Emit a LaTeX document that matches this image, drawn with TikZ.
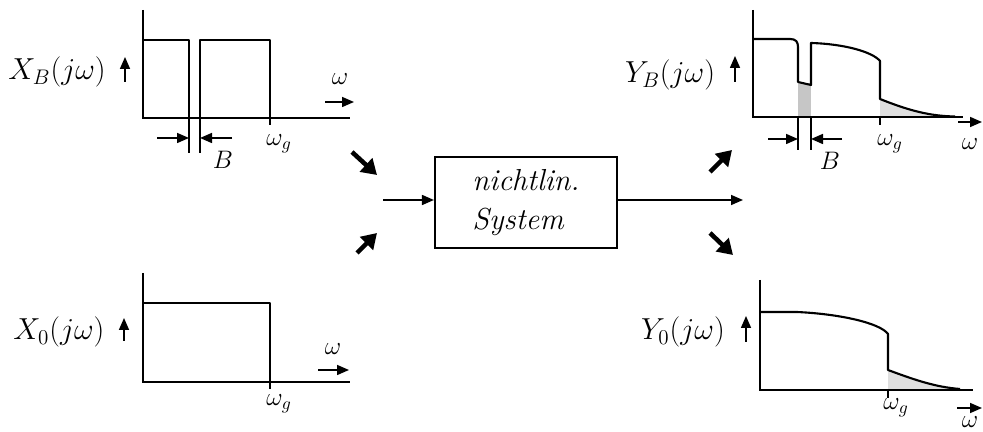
\documentclass[tikz,border=0pt]{standalone}
\usepackage{amsmath}
\usetikzlibrary{arrows.meta, positioning}

\begin{document}
\begin{tikzpicture}[
    axis/.style={line width=0.9pt},
    spec/.style={line width=1.2pt, line join=round},
    lbl/.style={font=\LARGE},
    small/.style={font=\Large},
    tick/.style={line width=0.8pt},
    arrow/.style={-{Triangle[length=2.4mm, width=2mm]}, line width=0.9pt},
    bigarrow/.style={-{Triangle[length=3mm, width=3.6mm]}, line width=2.6pt},
    shade/.style={fill=gray!45, draw=none},
    lightshade/.style={fill=gray!25, draw=none},
    sysbox/.style={draw, line width=1.2pt, minimum width=3.64cm, minimum height=1.82cm, font=\LARGE\itshape, align=left}
]
\useasboundingbox (0,0) rectangle (19.66,8.64);

% X_B(jw): input spectrum with gap B
\draw[axis] (2.86,8.44) -- (2.86,6.28) -- (7.00,6.28);
\draw[spec] (2.86,7.84) -- (3.78,7.84) -- (3.78,5.58);
\draw[spec] (4.00,5.58) -- (4.00,7.84) -- (5.40,7.84) -- (5.40,6.28);
\draw[tick] (5.40,6.28) -- (5.40,6.14);
\node[lbl] (xb) at (1.14,7.20) {$X_B(j\omega)$};
\draw[arrow] (2.50,7.00) -- (2.50,7.50);
\draw[arrow] (3.14,5.88) -- (3.78,5.88);
\draw[arrow] (4.64,5.88) -- (4.00,5.88);
\node[small] (xbgap) at (4.46,5.44) {$B$};
\node[small] (xbwg) at (5.58,5.76) {$\omega_g$};
\node[small] (xbw) at (6.80,7.06) {$\omega$};
\draw[arrow] (6.50,6.60) -- (7.08,6.60);

% X_0(jw): full input spectrum
\draw[axis] (2.86,3.18) -- (2.86,1.00) -- (7.00,1.00);
\draw[spec] (2.86,2.58) -- (5.40,2.58) -- (5.40,1.00);
\draw[tick] (5.40,1.00) -- (5.40,0.86);
\node[lbl] (xo) at (1.18,2.00) {$X_0(j\omega)$};
\draw[arrow] (2.48,1.82) -- (2.48,2.28);
\node[small] (xowg) at (5.58,0.56) {$\omega_g$};
\node[small] (xow) at (6.66,1.66) {$\omega$};
\draw[arrow] (6.36,1.24) -- (6.98,1.24);

% nonlinear system
\node[sysbox] (sys) at (10.52,4.59) {nichtlin.\\System};
\coordinate (in) at (7.66,4.64);
\coordinate (out) at (14.86,4.64);
\draw[arrow] (in) -- (sys.west |- in);
\draw[arrow] (sys.east |- out) -- (out);

% bold arrows in and out
\coordinate (tl0) at (7.04,5.60);
\coordinate (tl1) at (7.54,5.14);
\coordinate (bl0) at (7.14,3.58);
\coordinate (bl1) at (7.54,3.98);
\coordinate (tr0) at (14.20,5.20);
\coordinate (tr1) at (14.64,5.64);
\coordinate (br0) at (14.20,3.98);
\coordinate (br1) at (14.66,3.54);
\draw[bigarrow] (tl0) -- (tl1);
\draw[bigarrow] (bl0) -- (bl1);
\draw[bigarrow] (tr0) -- (tr1);
\draw[bigarrow] (br0) -- (br1);

% Y_B(jw): output spectrum, gap filled in
\fill[shade] (15.96,6.30) rectangle (16.22,6.97);
\fill[lightshade] (17.60,6.30) -- (17.60,6.66) .. controls (18.2,6.42) and (18.6,6.32) .. (19.10,6.31) -- cycle;
\draw[axis] (15.06,8.44) -- (15.06,6.30) -- (19.26,6.30);
\draw[spec] (15.06,7.86) -- (15.80,7.86) .. controls (15.92,7.86) and (15.96,7.80) .. (15.96,7.70)
    -- (15.96,7.00) -- (16.22,6.94) -- (16.22,7.78)
    .. controls (16.9,7.76) and (17.45,7.60) .. (17.60,7.42) -- (17.60,6.66)
    .. controls (18.2,6.42) and (18.6,6.32) .. (19.10,6.31);
\draw[tick] (15.96,6.30) -- (15.96,5.64);
\draw[tick] (16.22,6.30) -- (16.22,5.64);
\draw[tick] (17.60,6.30) -- (17.60,6.14);
\node[lbl] (yb) at (13.40,7.14) {$Y_B(j\omega)$};
\draw[arrow] (14.70,7.00) -- (14.70,7.52);
\draw[arrow] (15.36,5.86) -- (15.96,5.86);
\draw[arrow] (16.84,5.86) -- (16.22,5.86);
\node[small] (ybgap) at (16.60,5.42) {$B$};
\node[small] (ybwg) at (17.80,5.76) {$\omega_g$};
\node[small] (ybw) at (19.40,5.76) {$\omega$};
\draw[arrow] (19.16,6.20) -- (19.64,6.20);

% Y_0(jw): output spectrum beyond w_g
\fill[lightshade] (17.76,0.84) -- (17.76,1.24) .. controls (18.3,1.04) and (18.7,0.90) .. (19.20,0.86) -- cycle;
\draw[axis] (15.20,3.04) -- (15.20,0.84) -- (19.46,0.84);
\draw[spec] (15.20,2.40) -- (15.94,2.40) .. controls (16.8,2.36) and (17.6,2.18) .. (17.76,1.96)
    -- (17.76,1.24) .. controls (18.3,1.04) and (18.7,0.90) .. (19.20,0.86);
\draw[tick] (17.76,0.84) -- (17.76,0.68);
\node[lbl] (yo) at (13.66,2.00) {$Y_0(j\omega)$};
\draw[arrow] (14.92,1.80) -- (14.92,2.32);
\node[small] (yowg) at (17.92,0.48) {$\omega_g$};
\node[small] (yow) at (19.40,0.20) {$\omega$};
\draw[arrow] (19.14,0.48) -- (19.64,0.48);

\end{tikzpicture}
\end{document}
